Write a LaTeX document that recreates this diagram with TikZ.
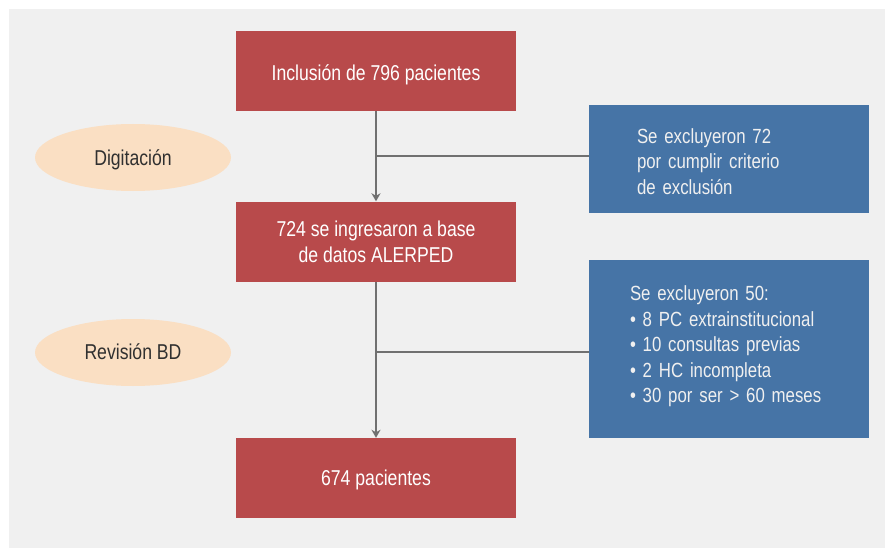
\documentclass[tikz,border=0pt]{standalone}
\usepackage{fontspec}
\setmainfont{Liberation Sans}[FakeStretch=0.82]
\usetikzlibrary{shapes.geometric,arrows.meta}
\definecolor{bg}{HTML}{F0F0F0}
\definecolor{redbox}{HTML}{B84A4B}
\definecolor{bluebox}{HTML}{4674A6}
\definecolor{peach}{HTML}{FADFC3}
\definecolor{linegray}{HTML}{707070}
\definecolor{txtdark}{HTML}{303030}
\newcommand{\shiftby}[2]{\raisebox{#1}[\height][\depth]{#2}}
\tikzset{
  redstep/.style={rectangle, fill=redbox, text=white, minimum width=280pt, minimum height=80pt, align=center, inner sep=0pt, font=\fontsize{21.5}{26}\selectfont},
  bluestep/.style={rectangle, fill=bluebox, text=bg, align=left, inner ysep=0pt, font=\fontsize{20.5}{25.5}\selectfont},
  phase/.style={ellipse, fill=peach, text=txtdark, minimum width=196pt, minimum height=67pt, inner sep=0pt, text depth=0pt, font=\fontsize{21.5}{26}\selectfont},
  conn/.style={draw=linegray, line width=2.3pt},
  arr/.style={conn, -{Stealth[length=8pt,width=9pt,inset=2.5pt]}}
}
\begin{document}
\begin{tikzpicture}[x=1pt,y=-1pt]
\useasboundingbox (0,0) rectangle (885,548);
\fill[bg] (9,9) rectangle (885,548);
\node[redstep, text depth=0pt] (a) at (376,71) {\shiftby{-2pt}{Inclusión de 796 pacientes}};
\node[redstep] (b) at (376,241.5) {724 se ingresaron a base\\de datos ALERPED};
\node[redstep, text depth=0pt] (c) at (376,478) {674 pacientes};
\node[bluestep, minimum width=280pt, minimum height=108pt, inner xsep=48pt, text width=184pt] (e1) at (729,159) {\shiftby{-2.5pt}{\parbox{184pt}{Se excluyeron 72\\por cumplir criterio\\de exclusión}}};
\node[bluestep, minimum width=280pt, minimum height=178pt, inner xsep=41pt, text width=198pt] (e2) at (729,349) {\shiftby{2.5pt}{\parbox{198pt}{Se excluyeron 50:\\• 8 PC extrainstitucional\\• 10 consultas previas\\• 2 HC incompleta\\• 30 por ser > 60 meses}}};
\node[phase] (p1) at (133,157.5) {Digitación};
\node[phase] (p2) at (133,352.5) {\shiftby{1pt}{Revisión BD}};
\draw[arr] (a.south) -- (b.north);
\draw[arr] (b.south) -- (c.north);
\coordinate (j1) at ([yshift=3pt]a.south |- e1.west);
\coordinate (j2) at ([yshift=-3pt]b.south |- e2.west);
\draw[conn] (j1) -- (j1 -| e1.west);
\draw[conn] (j2) -- (j2 -| e2.west);
\end{tikzpicture}
\end{document}
